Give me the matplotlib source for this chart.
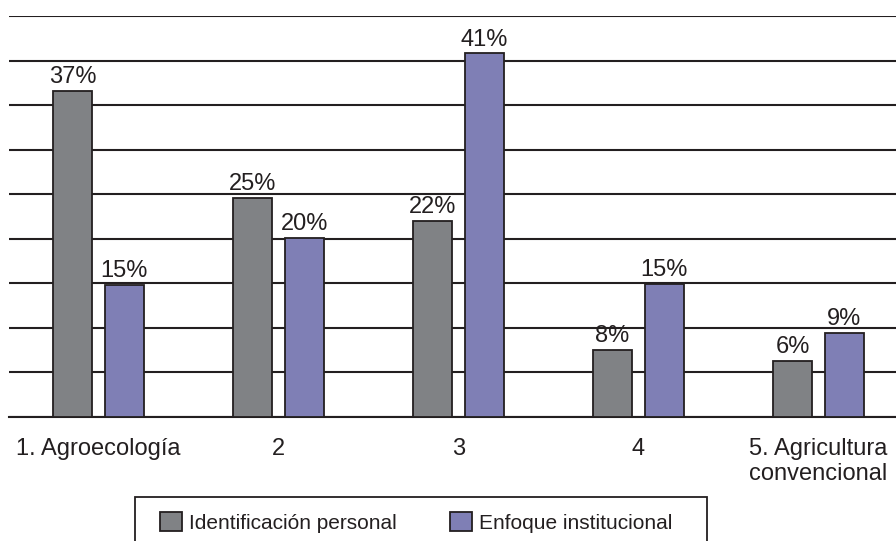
import matplotlib
matplotlib.use("Agg")
import matplotlib.pyplot as plt
from matplotlib.patches import Rectangle
import numpy as np

plt.rcParams['font.family'] = ['Liberation Sans', 'DejaVu Sans']

categories = ["1. Agroecología", "2", "3", "4", "5. Agricultura\nconvencional"]
series_names = ["Identificación personal", "Enfoque institucional"]
# bar heights (percent)
personal = [36.6, 24.6, 22.0, 7.5, 6.3]
institucional = [14.8, 20.1, 40.8, 14.9, 9.4]
# printed data labels
personal_labels = ["37%", "25%", "22%", "8%", "6%"]
institucional_labels = ["15%", "20%", "41%", "15%", "9%"]

W, H = 896, 541
fig = plt.figure(figsize=(W / 100, H / 100), dpi=100)
ax = fig.add_axes([8.5 / W, (H - 417) / H, 900 / W, 401 / H])

dark = "#231f20"
gray = "#808285"
purple = "#7f7fb5"

x = np.arange(len(categories))
bw = 0.217
off = 0.144
b1 = ax.bar(x - off, personal, bw, color=gray, edgecolor=dark, linewidth=1.3,
            label=series_names[0], zorder=3)
b2 = ax.bar(x + off, institucional, bw, color=purple, edgecolor=dark, linewidth=1.3,
            label=series_names[1], zorder=3)

for bars, labs in ((b1, personal_labels), (b2, institucional_labels)):
    for r, lab in zip(bars, labs):
        ax.annotate(lab, (r.get_x() + r.get_width() / 2, r.get_height()),
                    xytext=(0, 2), textcoords="offset points",
                    ha="center", va="bottom", fontsize=17, color=dark, zorder=4)

ax.set_xlim(-0.5, 4.5)
ax.set_ylim(0, 45)
ax.set_yticks(np.arange(0, 46, 5))
ax.yaxis.grid(True, color=dark, linewidth=1.5, zorder=0)
ax.tick_params(axis="y", left=False, labelleft=False)
ax.tick_params(axis="x", bottom=False, pad=11.5, labelsize=17, colors=dark)
ax.set_xticks(x)
ax.set_xticklabels(categories, ha="center", va="top", linespacing=1.2)
for s in ["top", "right", "left"]:
    ax.spines[s].set_visible(False)
ax.spines["bottom"].set_color(dark)
ax.spines["bottom"].set_linewidth(1.5)

leg = fig.legend(handles=[b1, b2], labels=series_names, loc="upper left",
                 bbox_to_anchor=(160 / W, 1 - 512 / H), ncol=2, fontsize=15,
                 frameon=False, borderpad=0, borderaxespad=0,
                 handlelength=1.06, handleheight=1.06, handletextpad=0.34,
                 columnspacing=2.55)
for t in leg.get_texts():
    t.set_color(dark)

frame = Rectangle((135 / W, -0.1), (707 - 135) / W, 0.1 + (H - 497) / H,
                  transform=fig.transFigure, facecolor="none", edgecolor=dark,
                  linewidth=1.3, clip_on=False)
fig.patches.append(frame)

fig.savefig("out.png", dpi=100)
